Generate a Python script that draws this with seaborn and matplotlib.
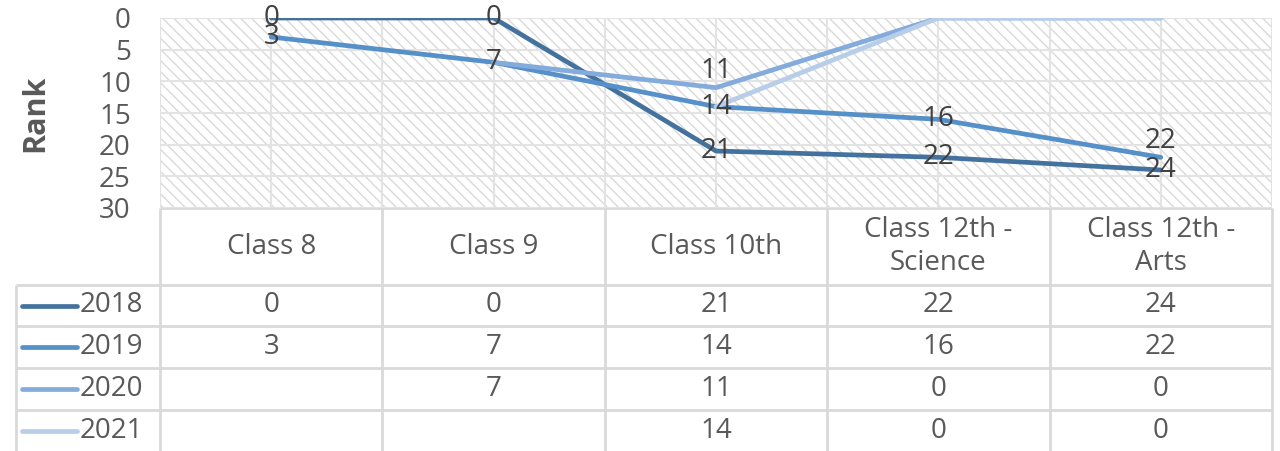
import numpy as np
import pandas as pd
import matplotlib
matplotlib.use("Agg")
import matplotlib.pyplot as plt
from matplotlib.patches import Rectangle
import seaborn as sns

# -------------------------
# Data
# -------------------------
classes = ["Class 8", "Class 9", "Class 10th", "Class 12th - Science", "Class 12th - Arts"]
header_labels = ["Class 8", "Class 9", "Class 10th", "Class 12th -\nScience", "Class 12th -\nArts"]
years = ["2018", "2019", "2020", "2021"]
rank_2018 = [0, 0, 21, 22, 24]
rank_2019 = [3, 7, 14, 16, 22]
rank_2020 = [np.nan, 7, 11, 0, 0]
rank_2021 = [np.nan, np.nan, 14, 0, 0]
yticks = [0, 5, 10, 15, 20, 25, 30]

# which points get a data label on the chart, and where ("c" centred, "a" above)
label_pos = {
    "2018": ["c", "c", "c", "c", "c"],
    "2019": ["c", "c", "c", "c", "a"],
    "2020": [None, None, "a", None, None],
    "2021": [None, None, None, None, None],
}

colors = ["#44729f", "#5590c8", "#83abdb", "#b7cde8"]
text_col = "#595959"
grid_col = "#d9d9d9"
fs = 20

series = {"2018": rank_2018, "2019": rank_2019, "2020": rank_2020, "2021": rank_2021}
df = pd.DataFrame([
    {"Class": c, "pos": i, "Year": y, "Rank": v}
    for y, vals in series.items() for i, (c, v) in enumerate(zip(classes, vals))
])

# -------------------------
# Figure
# -------------------------
sns.set_style("white")
plt.rcParams["font.family"] = ["Open Sans", "DejaVu Sans"]
plt.rcParams["hatch.linewidth"] = 1.0

W, H = 1280, 451
fig = plt.figure(figsize=(W / 100, H / 100), dpi=100)
px_l, px_r, px_t, px_b = 160, 1272, 18, 208
ax = fig.add_axes([px_l / W, 1 - px_b / H, (px_r - px_l) / W, (px_b - px_t) / H])

# hatched plot area background
ax.add_patch(Rectangle((0, 0), 1, 1, transform=ax.transAxes, facecolor="white",
                       edgecolor="#d9d9d9", linewidth=0, hatch="\\\\\\", zorder=0))
for v in yticks:
    ax.axhline(v, color="#e3e3e3", lw=1.5, zorder=1)
for x in np.arange(-0.5, 4.51, 0.5):
    ax.axvline(x, color="#e3e3e3", lw=1.5, zorder=1)

sns.lineplot(data=df.dropna(), x="pos", y="Rank", hue="Year", palette=colors,
             linewidth=3.4, legend=False, sort=False, ax=ax, zorder=3)

for y, vals in series.items():
    for i, v in enumerate(vals):
        p = label_pos[y][i]
        if p is None or np.isnan(v):
            continue
        if p == "c":
            ax.annotate(f"{v:g}", (i, v), ha="center", va="center", fontsize=fs,
                        color="#404040", zorder=5)
        else:
            ax.annotate(f"{v:g}", (i, v), xytext=(0, 2), textcoords="offset points",
                        ha="center", va="bottom", fontsize=fs, color="#404040", zorder=5)

ax.set_xlim(-0.5, 4.5)
ax.set_ylim(30, 0)
ax.set_yticks(yticks)
ax.set_xticks([])
ax.set_xlabel("")
ax.set_ylabel("")
ax.tick_params(axis="y", length=0, pad=21, labelsize=fs, labelcolor=text_col)
for s in ax.spines.values():
    s.set_visible(False)

fig.text(35 / W, 1 - 113 / H, "Rank", rotation=90, ha="center", va="center",
         fontsize=22, fontweight="bold", color=text_col)

# -------------------------
# Data table below the chart
# -------------------------
tab = fig.add_axes([0, 0, 1, (H - px_b) / H])
tab.set_xlim(0, W)
tab.set_ylim(H, px_b)
tab.axis("off")

cw = (px_r - px_l) / len(classes)
row_edges = [208, 285, 326, 368, 410, 451]
lk = dict(color=grid_col, lw=2, solid_capstyle="butt")

tab.plot([px_l, px_r], [row_edges[0], row_edges[0]], **lk)
for r in row_edges[1:-1]:
    tab.plot([16, px_r], [r, r], **lk)
for j in range(len(classes) + 1):
    xx = px_l + j * cw
    tab.plot([xx, xx], [row_edges[0], H], **lk)
tab.plot([16, 16], [row_edges[1], H], **lk)

for j, lab in enumerate(header_labels):
    tab.text(px_l + (j + 0.5) * cw, (row_edges[0] + row_edges[1]) / 2, lab,
             ha="center", va="center", fontsize=fs, color=text_col, linespacing=1.2)

for k, (y, vals) in enumerate(series.items()):
    yc = (row_edges[k + 1] + row_edges[k + 2]) / 2
    tab.plot([22, 77], [yc, yc], color=colors[k], lw=3.4, solid_capstyle="round")
    tab.text(80, yc, y, ha="left", va="center", fontsize=fs, color=text_col)
    for j, v in enumerate(vals):
        if np.isnan(v):
            continue
        tab.text(px_l + (j + 0.5) * cw, yc, f"{v:g}", ha="center", va="center",
                 fontsize=fs, color=text_col)

fig.savefig("out.png", dpi=100)
plt.close()
